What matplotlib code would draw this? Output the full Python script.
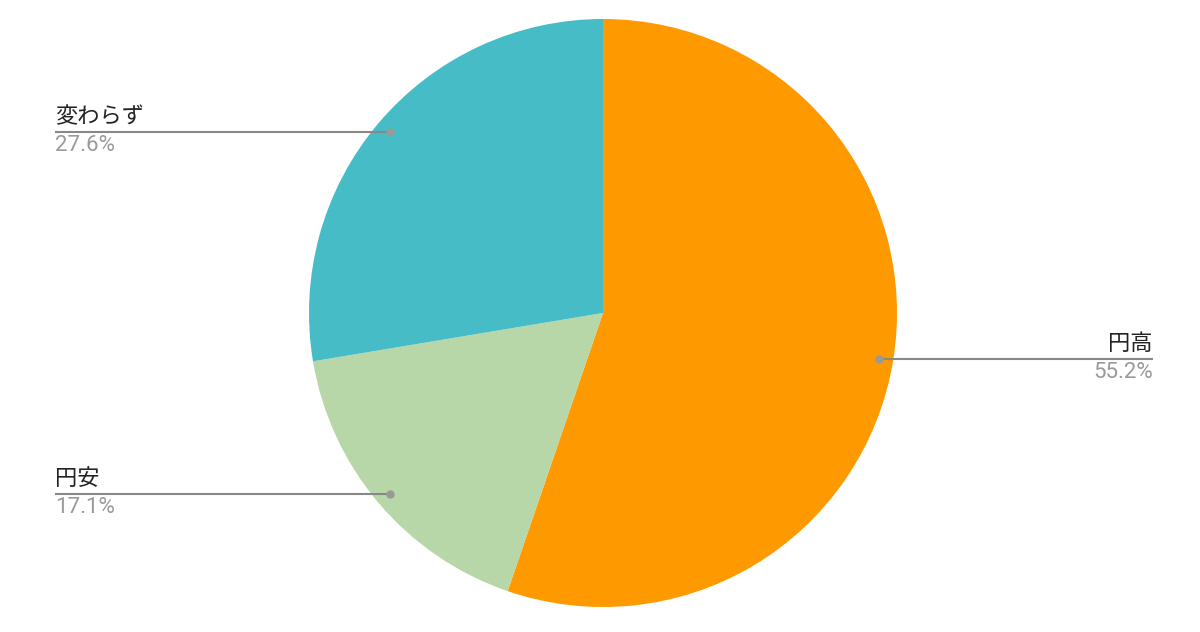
import numpy as np
import matplotlib
matplotlib.use("Agg")
import matplotlib.pyplot as plt

# data
labels = ["円高", "円安", "変わらず"]
values = [55.2, 17.1, 27.6]
colors = ["#FF9900", "#B7D7A8", "#46BDC6"]

W, H = 1200, 632
CX, CY, R = 603, H - 313, 294

fig = plt.figure(figsize=(W / 100, H / 100), dpi=100)
ax = fig.add_axes([0, 0, 1, 1])

wedges, _ = ax.pie(values, colors=colors, startangle=90, counterclock=False,
                   center=(CX, CY), radius=R, frame=True,
                   wedgeprops=dict(linewidth=0))
ax.set_xlim(0, W)
ax.set_ylim(0, H)
ax.set_aspect("equal")
ax.axis("off")

total = sum(values)
cum = 0
for lab, v in zip(labels, values):
    mid = (cum + v / 2) / total
    cum += v
    ang = np.deg2rad(90 - mid * 360)
    px = CX + 0.95 * R * np.cos(ang)
    py = CY + 0.95 * R * np.sin(ang)
    if np.cos(ang) >= 0:
        ex, ha = 1153, "right"
    else:
        ex, ha = 55, "left"
    ax.plot([px, ex], [py, py], color="#888888", lw=1.5, solid_capstyle="butt", zorder=3)
    ax.plot(px, py, "o", color="#999999", ms=5, zorder=4)
    ax.text(ex, py + 4, lab, ha=ha, va="bottom", fontsize=16,
            family=["Noto Sans CJK JP", "DejaVu Sans"], color="#222222")
    ax.text(ex, py - 3, f"{v:.1f}%", ha=ha, va="top", fontsize=16,
            family=["Roboto", "DejaVu Sans"], color="#9a9a9a")

fig.savefig("out.png", dpi=100, facecolor="white")
